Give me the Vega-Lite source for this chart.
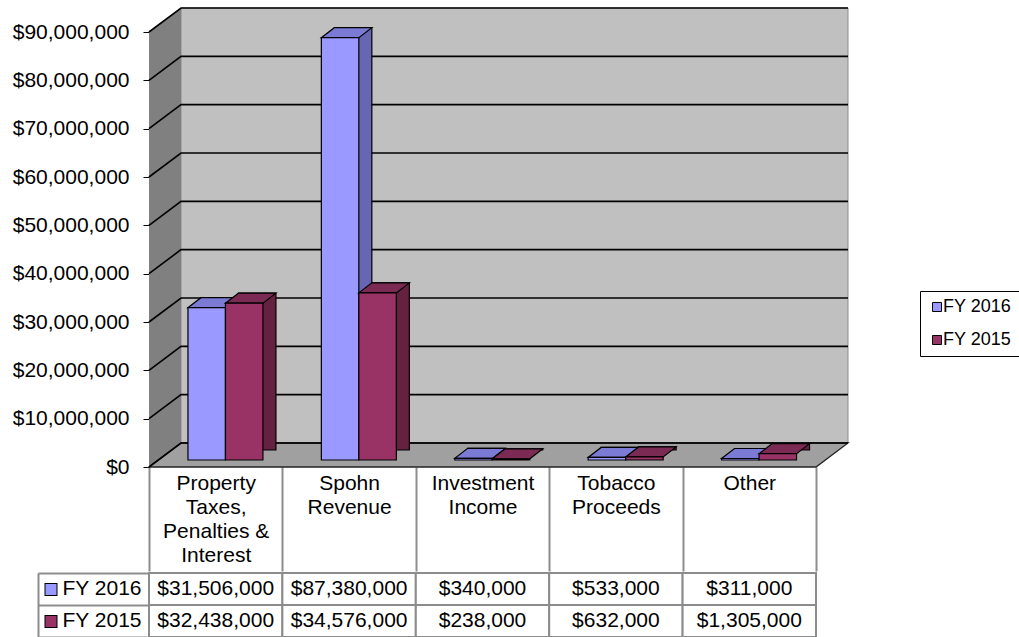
{
  "$schema": "https://vega.github.io/schema/vega-lite/v6.json",
  "padding": {"left": 12, "top": 4, "right": 0, "bottom": 0},
  "background": "white",
  "config": {"font": "Liberation Sans", "view": {"stroke": null}},
  "datasets": {
    "revenue": [
      {"category": "Property Taxes, Penalties & Interest", "year": "FY 2016", "value": 31506000},
      {"category": "Spohn Revenue", "year": "FY 2016", "value": 87380000},
      {"category": "Investment Income", "year": "FY 2016", "value": 340000},
      {"category": "Tobacco Proceeds", "year": "FY 2016", "value": 533000},
      {"category": "Other", "year": "FY 2016", "value": 311000},
      {"category": "Property Taxes, Penalties & Interest", "year": "FY 2015", "value": 32438000},
      {"category": "Spohn Revenue", "year": "FY 2015", "value": 34576000},
      {"category": "Investment Income", "year": "FY 2015", "value": 238000},
      {"category": "Tobacco Proceeds", "year": "FY 2015", "value": 632000},
      {"category": "Other", "year": "FY 2015", "value": 1305000}
    ],
    "grid": [
      {"v": 0}, {"v": 10000000}, {"v": 20000000}, {"v": 30000000}, {"v": 40000000},
      {"v": 50000000}, {"v": 60000000}, {"v": 70000000}, {"v": 80000000}, {"v": 90000000}
    ],
    "one": [{}]
  },
  "spacing": 0,
  "vconcat": [
    {
      "width": 667,
      "height": 435,
      "layer": [
        {
          "data": {"name": "grid"},
          "mark": {"type": "point", "shape": "M 0 0 L 1 0", "size": 4, "filled": false, "opacity": 0},
          "encoding": {
            "x": {"datum": "Property Taxes, Penalties & Interest", "type": "nominal", "bandPosition": 0, "scale": {"type": "band", "domain": ["Property Taxes, Penalties & Interest", "Spohn Revenue", "Investment Income", "Tobacco Proceeds", "Other"], "paddingInner": 0, "paddingOuter": 0},
              "axis": {"orient": "bottom", "title": null, "domain": false, "ticks": true, "tickBand": "extent", "tickSize": 104, "tickColor": "#8c8c8c", "tickWidth": 2, "labelPadding": -99, "labelFontSize": 21, "labelColor": "#000000", "labelAngle": 0, "labelBaseline": "top", "labelLineHeight": 24, "labelLimit": 300, "labelOverlap": false, "grid": false, "labelExpr": "!isValid(datum.value) ? '' : datum.value == 'Property Taxes, Penalties & Interest' ? ['Property', 'Taxes,', 'Penalties &', 'Interest'] : split(datum.value, ' ')"}},
            "y": {"field": "v", "type": "quantitative", "scale": {"domain": [0, 90000000], "nice": false, "zero": true},
              "axis": {"values": [0, 10000000, 20000000, 30000000, 40000000, 50000000, 60000000, 70000000, 80000000, 90000000], "format": "$,.0f", "title": null, "domain": false, "grid": false, "ticks": true, "tickSize": 6, "tickColor": "#000000", "tickWidth": 1, "labelFontSize": 21, "labelColor": "#000000", "labelPadding": 14, "labelOverlap": false, "labelFlush": false}}
          }
        },
        {
          "data": {"name": "one"},
          "mark": {"type": "point", "shape": "M 32 -24 L 699 -24 L 699 -459 L 32 -459 Z", "size": 4, "filled": true, "fill": "#c0c0c0", "stroke": "#8c8c8c", "strokeWidth": 1, "opacity": 1},
          "encoding": {
            "x": {"datum": "Property Taxes, Penalties & Interest", "type": "nominal", "bandPosition": 0},
            "y": {"datum": 0, "type": "quantitative"}
          }
        },
        {
          "data": {"name": "one"},
          "mark": {"type": "point", "shape": "M 0 0 L 0 -435 L 32 -459 L 32 -24 Z", "size": 4, "filled": true, "fill": "#808080", "strokeWidth": 0, "opacity": 1},
          "encoding": {
            "x": {"datum": "Property Taxes, Penalties & Interest", "type": "nominal", "bandPosition": 0},
            "y": {"datum": 0, "type": "quantitative"}
          }
        },
        {
          "data": {"name": "one"},
          "mark": {"type": "point", "shape": "M 0 0 L 32 -24 L 699 -24 L 667 0 Z", "size": 4, "filled": true, "fill": "#a0a0a0", "stroke": "#222222", "strokeWidth": 1.3, "opacity": 1},
          "encoding": {
            "x": {"datum": "Property Taxes, Penalties & Interest", "type": "nominal", "bandPosition": 0},
            "y": {"datum": 0, "type": "quantitative"}
          }
        },
        {
          "data": {"name": "grid"},
          "mark": {"type": "point", "shape": "M 0 0 L 32 -24 L 699 -24", "size": 4, "filled": false, "color": "#000000", "stroke": "#000000", "strokeWidth": 1.6, "opacity": 1},
          "encoding": {
            "x": {"datum": "Property Taxes, Penalties & Interest", "type": "nominal", "bandPosition": 0},
            "y": {"field": "v", "type": "quantitative"}
          }
        },
        {
          "data": {"name": "revenue"},
          "transform": [{"filter": "datum.year == 'FY 2016'"}],
          "mark": {"type": "bar", "width": {"band": 0.281}, "xOffset": 4, "x2Offset": 4, "yOffset": -17, "y2Offset": -17, "fill": "#6666b3", "stroke": "#000000", "strokeWidth": 1.2},
          "encoding": {
            "x": {"field": "category", "type": "nominal"},
            "y": {"field": "value", "type": "quantitative"}
          }
        },
        {
          "data": {"name": "revenue"},
          "transform": [{"filter": "datum.year == 'FY 2016'"}],
          "mark": {"type": "point", "shape": "M -18.75 0 L 18.75 0 L 31.75 -10 L -5.75 -10 Z", "size": 4, "filled": true, "fill": "#7b7bd6", "stroke": "#000000", "strokeWidth": 1.2, "opacity": 1, "xOffset": -9, "yOffset": -7},
          "encoding": {
            "x": {"field": "category", "type": "nominal"},
            "y": {"field": "value", "type": "quantitative"}
          }
        },
        {
          "data": {"name": "revenue"},
          "transform": [{"filter": "datum.year == 'FY 2016'"}],
          "mark": {"type": "bar", "width": {"band": 0.281}, "xOffset": -9, "x2Offset": -9, "yOffset": -7, "y2Offset": -7, "stroke": "#000000", "strokeWidth": 1.2},
          "encoding": {
            "x": {"field": "category", "type": "nominal"},
            "y": {"field": "value", "type": "quantitative"},
            "color": {"field": "year", "type": "nominal", "scale": {"domain": ["FY 2016", "FY 2015"], "range": ["#9999ff", "#993366"]},
              "legend": {"orient": "none", "legendX": 771, "legendY": 259, "title": null, "strokeColor": "#000000", "fillColor": "white", "padding": 7, "symbolType": "square", "symbolSize": 81, "symbolStrokeColor": "#000000", "symbolStrokeWidth": 1, "symbolOffset": 1, "labelFontSize": 18, "labelColor": "#000000", "labelOffset": -3, "rowPadding": 15}}
          }
        },
        {
          "data": {"name": "revenue"},
          "transform": [{"filter": "datum.year == 'FY 2015'"}],
          "mark": {"type": "bar", "width": {"band": 0.281}, "xOffset": 41.5, "x2Offset": 41.5, "yOffset": -17, "y2Offset": -17, "fill": "#652140", "stroke": "#000000", "strokeWidth": 1.2},
          "encoding": {
            "x": {"field": "category", "type": "nominal"},
            "y": {"field": "value", "type": "quantitative"}
          }
        },
        {
          "data": {"name": "revenue"},
          "transform": [{"filter": "datum.year == 'FY 2015'"}],
          "mark": {"type": "point", "shape": "M -18.75 0 L 18.75 0 L 31.75 -10 L -5.75 -10 Z", "size": 4, "filled": true, "fill": "#7b2b53", "stroke": "#000000", "strokeWidth": 1.2, "opacity": 1, "xOffset": 28.5, "yOffset": -7},
          "encoding": {
            "x": {"field": "category", "type": "nominal"},
            "y": {"field": "value", "type": "quantitative"}
          }
        },
        {
          "data": {"name": "revenue"},
          "transform": [{"filter": "datum.year == 'FY 2015'"}],
          "mark": {"type": "bar", "width": {"band": 0.281}, "xOffset": 28.5, "x2Offset": 28.5, "yOffset": -7, "y2Offset": -7, "stroke": "#000000", "strokeWidth": 1.2},
          "encoding": {
            "x": {"field": "category", "type": "nominal"},
            "y": {"field": "value", "type": "quantitative"},
            "color": {"field": "year", "type": "nominal", "scale": {"domain": ["FY 2016", "FY 2015"], "range": ["#9999ff", "#993366"]},
              "legend": {"orient": "none", "legendX": 771, "legendY": 259, "title": null, "strokeColor": "#000000", "fillColor": "white", "padding": 7, "symbolType": "square", "symbolSize": 81, "symbolStrokeColor": "#000000", "symbolStrokeWidth": 1, "symbolOffset": 1, "labelFontSize": 18, "labelColor": "#000000", "labelOffset": -3, "rowPadding": 15}}
          }
        }
      ]
    },
    {
      "width": 667,
      "height": 64,
      "data": {"name": "revenue"},
      "layer": [
        {
          "mark": {"type": "rect", "fill": "white", "stroke": "#8c8c8c", "strokeWidth": 2},
          "encoding": {
            "x": {"field": "category", "type": "nominal", "scale": {"type": "band", "domain": ["Property Taxes, Penalties & Interest", "Spohn Revenue", "Investment Income", "Tobacco Proceeds", "Other"], "paddingInner": 0, "paddingOuter": 0}, "axis": null},
            "y": {"field": "year", "type": "nominal", "scale": {"type": "band", "domain": ["FY 2016", "FY 2015"], "paddingInner": 0, "paddingOuter": 0},
              "axis": {"orient": "left", "offset": 111, "title": null, "labels": false, "domain": true, "domainColor": "#8c8c8c", "domainWidth": 2, "ticks": true, "tickBand": "extent", "tickSize": -111, "tickColor": "#8c8c8c", "tickWidth": 2}}
          }
        },
        {
          "mark": {"type": "text", "fontSize": 21, "color": "#000000", "baseline": "middle", "align": "center"},
          "encoding": {
            "x": {"field": "category", "type": "nominal", "scale": {"type": "band", "domain": ["Property Taxes, Penalties & Interest", "Spohn Revenue", "Investment Income", "Tobacco Proceeds", "Other"], "paddingInner": 0, "paddingOuter": 0}, "axis": null},
            "y": {"field": "year", "type": "nominal", "scale": {"type": "band", "domain": ["FY 2016", "FY 2015"], "paddingInner": 0, "paddingOuter": 0},
              "axis": {"orient": "left", "title": null, "labels": true, "domain": false, "ticks": false, "labelPadding": 8, "labelFontSize": 21, "labelColor": "#000000"}},
            "text": {"field": "value", "type": "quantitative", "format": "$,.0f"}
          }
        },
        {
          "mark": {"type": "rect", "fillOpacity": 0, "strokeOpacity": 0},
          "encoding": {
            "x": {"field": "category", "type": "nominal", "scale": {"type": "band", "domain": ["Property Taxes, Penalties & Interest", "Spohn Revenue", "Investment Income", "Tobacco Proceeds", "Other"], "paddingInner": 0, "paddingOuter": 0}, "axis": null},
            "y": {"field": "year", "type": "nominal", "scale": {"type": "band", "domain": ["FY 2016", "FY 2015"], "paddingInner": 0, "paddingOuter": 0},
              "axis": {"orient": "left", "offset": 92, "title": null, "labels": false, "domain": false, "ticks": true, "tickSize": 13, "tickWidth": 13, "tickColor": "#000000"}}
          }
        },
        {
          "mark": {"type": "rect", "fillOpacity": 0, "strokeOpacity": 0},
          "encoding": {
            "x": {"field": "category", "type": "nominal", "scale": {"type": "band", "domain": ["Property Taxes, Penalties & Interest", "Spohn Revenue", "Investment Income", "Tobacco Proceeds", "Other"], "paddingInner": 0, "paddingOuter": 0}, "axis": null},
            "y": {"field": "year", "type": "nominal", "scale": {"type": "band", "domain": ["FY 2016", "FY 2015"], "paddingInner": 0, "paddingOuter": 0},
              "axis": {"orient": "left", "offset": 93, "title": null, "labels": false, "domain": false, "ticks": true, "tickSize": 11, "tickWidth": 11, "tickColor": {"condition": {"test": "datum.value === 'FY 2016'", "value": "#9999ff"}, "value": "#993366"}}}
          }
        }
      ],
      "resolve": {"axis": {"y": "independent"}}
    }
  ]
}
